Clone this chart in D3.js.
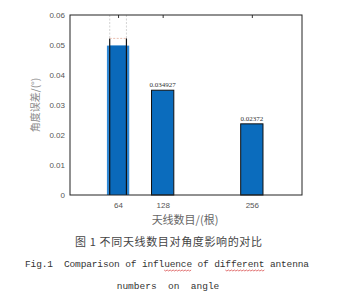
<!DOCTYPE html>
<html>
<head>
<meta charset="utf-8">
<script src="https://cdn.jsdelivr.net/npm/d3@7"></script>
<style>
body { margin: 0; background: #fff; }
text { white-space: pre; }
</style>
</head>
<body>
<div id="chart"></div>
<script>
// data
var antennaCounts = [64, 128, 256];
var angleErrors = [0.0498, 0.034927, 0.02372];
var barLabels = ["", "0.034927", "0.02372"];
var yTicks = [0, 0.01, 0.02, 0.03, 0.04, 0.05, 0.06];
var highlightTop = 0.0522;   // dashed selection box over the 64 bar
var barSpan = 32;            // bar width, in antenna units
var highlightSpan = 24;

var W = 337, H = 296;
var plotL = 70, plotR = 302, plotT = 15, plotB = 195;

var svg = d3.select("#chart").append("svg")
	.attr("width", W)
	.attr("height", H)
	.style("display", "block");

var x = d3.scaleLinear().domain([-5, 328]).range([plotL, plotR]);
var y = d3.scaleLinear().domain([0, 0.06]).range([plotB, plotT]);

var g = svg.append("g");

// bars
g.selectAll("rect.bar")
	.data(antennaCounts)
	.enter()
	.append("rect")
	.attr("class", "bar")
	.attr("x", function(d) { return x(d - barSpan / 2); })
	.attr("width", function(d) { return x(d + barSpan / 2) - x(d - barSpan / 2); })
	.attr("y", function(d, i) { return y(angleErrors[i]); })
	.attr("height", function(d, i) { return y(0) - y(angleErrors[i]); })
	.attr("fill", function(d, i) { return i === 0 ? "#3089d6" : "#0b6cbd"; })
	.attr("stroke", function(d, i) { return i === 0 ? "none" : "#111"; })
	.attr("stroke-width", 1);

// selected bar: darker core, black sides, dashed box above
var c = antennaCounts[0];
var hx0 = x(c - highlightSpan / 2), hx1 = x(c + highlightSpan / 2);
g.append("rect")
	.attr("x", hx0)
	.attr("width", hx1 - hx0)
	.attr("y", y(angleErrors[0]))
	.attr("height", y(0) - y(angleErrors[0]))
	.attr("fill", "#0a69ba");
[hx0, hx1].forEach(function(px) {
	g.append("line")
		.attr("x1", px).attr("x2", px)
		.attr("y1", y(highlightTop)).attr("y2", y(0))
		.attr("stroke", "#111").attr("stroke-width", 1.2);
	g.append("line")
		.attr("x1", px).attr("x2", px)
		.attr("y1", y(0.06)).attr("y2", y(highlightTop))
		.attr("stroke", "#c8c8c8").attr("stroke-width", 0.8)
		.attr("stroke-dasharray", "2,1.5");
});
g.append("line")
	.attr("x1", hx0).attr("x2", hx1)
	.attr("y1", y(highlightTop)).attr("y2", y(highlightTop))
	.attr("stroke", "#e8b8a8").attr("stroke-width", 0.9)
	.attr("stroke-dasharray", "2,1.5");

// value labels
g.selectAll("text.val")
	.data(antennaCounts)
	.enter()
	.append("text")
	.attr("class", "val")
	.attr("x", function(d) { return x(d); })
	.attr("y", function(d, i) { return y(angleErrors[i]) - 3; })
	.attr("text-anchor", "middle")
	.style("font-family", "'Liberation Serif', serif")
	.style("font-size", "7px")
	.attr("fill", "#333")
	.text(function(d, i) { return barLabels[i]; });

// axes
var yAxis = d3.axisLeft(y)
	.tickValues(yTicks)
	.tickSize(0)
	.tickPadding(5)
	.tickFormat(function(d) { return d === 0 ? "0" : d3.format(".2f")(d); });
var xAxis = d3.axisBottom(x)
	.tickValues(antennaCounts)
	.tickSize(0)
	.tickPadding(7)
	.tickFormat(d3.format("d"));
var xTop = d3.axisTop(x)
	.tickValues(antennaCounts)
	.tickSize(-3)
	.tickFormat("");

var ya = svg.append("g").attr("transform", "translate(" + plotL + ",0)").call(yAxis);
var xa = svg.append("g").attr("transform", "translate(0," + plotB + ")").call(xAxis);
var xt = svg.append("g").attr("transform", "translate(0," + plotT + ")").call(xTop);
[ya, xa].forEach(function(a) {
	a.select(".domain").remove();
	a.selectAll("text")
		.style("font-family", "'Liberation Sans', Arial, sans-serif")
		.style("font-size", "8px")
		.attr("fill", "#555");
});
xt.select(".domain").remove();
xt.selectAll("line").attr("stroke", "#333");

// box
svg.append("rect")
	.attr("x", plotL).attr("y", plotT)
	.attr("width", plotR - plotL).attr("height", plotB - plotT)
	.attr("fill", "none")
	.attr("stroke", "#222")
	.attr("stroke-width", 1);

// axis titles
svg.append("text")
	.attr("transform", "translate(39," + ((plotT + plotB) / 2) + ") rotate(-90)")
	.attr("text-anchor", "middle")
	.style("font-family", "'Noto Sans CJK SC', sans-serif")
	.style("font-size", "10px")
	.attr("fill", "#888")
	.text("角度误差/(°)");

svg.append("text")
	.attr("x", 185)
	.attr("y", 224)
	.attr("text-anchor", "middle")
	.style("font-family", "'Noto Sans CJK SC', sans-serif")
	.style("font-size", "11px")
	.attr("fill", "#666")
	.text("天线数目/(根)");

// captions
svg.append("text")
	.attr("x", 75)
	.attr("y", 246)
	.attr("textLength", 187)
	.attr("lengthAdjust", "spacing")
	.style("font-family", "'Noto Sans CJK SC', sans-serif")
	.style("font-size", "11px")
	.attr("fill", "#444")
	.text("图 1 不同天线数目对角度影响的对比");

var cap1Text = "Fig.1  Comparison of influence of different antenna";
var cap1 = svg.append("text")
	.attr("x", 25)
	.attr("y", 267)
	.attr("textLength", 284)
	.attr("lengthAdjust", "spacing")
	.style("font-family", "'Liberation Mono', 'DejaVu Sans Mono', monospace")
	.style("font-size", "9.5px")
	.attr("fill", "#333")
	.text(cap1Text);

// red wavy spell-check marks under "uence" and "fferent"
function squiggle(word) {
	var s = cap1Text.indexOf(word);
	var n = cap1.node();
	var a = n.getStartPositionOfChar(s).x;
	var b = n.getEndPositionOfChar(s + word.length - 1).x;
	var pts = [];
	for (var px = a, k = 0; px <= b; px += 1.5, k++) pts.push([px, 270 + (k % 2 ? 1 : 0)]);
	svg.append("path")
		.attr("d", d3.line()(pts))
		.attr("fill", "none")
		.attr("stroke", "#d43a3a")
		.attr("stroke-width", 0.7);
}
squiggle("uence");
squiggle("fferent");

svg.append("text")
	.attr("x", 168)
	.attr("y", 289)
	.attr("text-anchor", "middle")
	.style("font-family", "'Liberation Mono', 'DejaVu Sans Mono', monospace")
	.style("font-size", "9.5px")
	.attr("fill", "#333")
	.text("numbers  on  angle");
</script>
</body>
</html>
